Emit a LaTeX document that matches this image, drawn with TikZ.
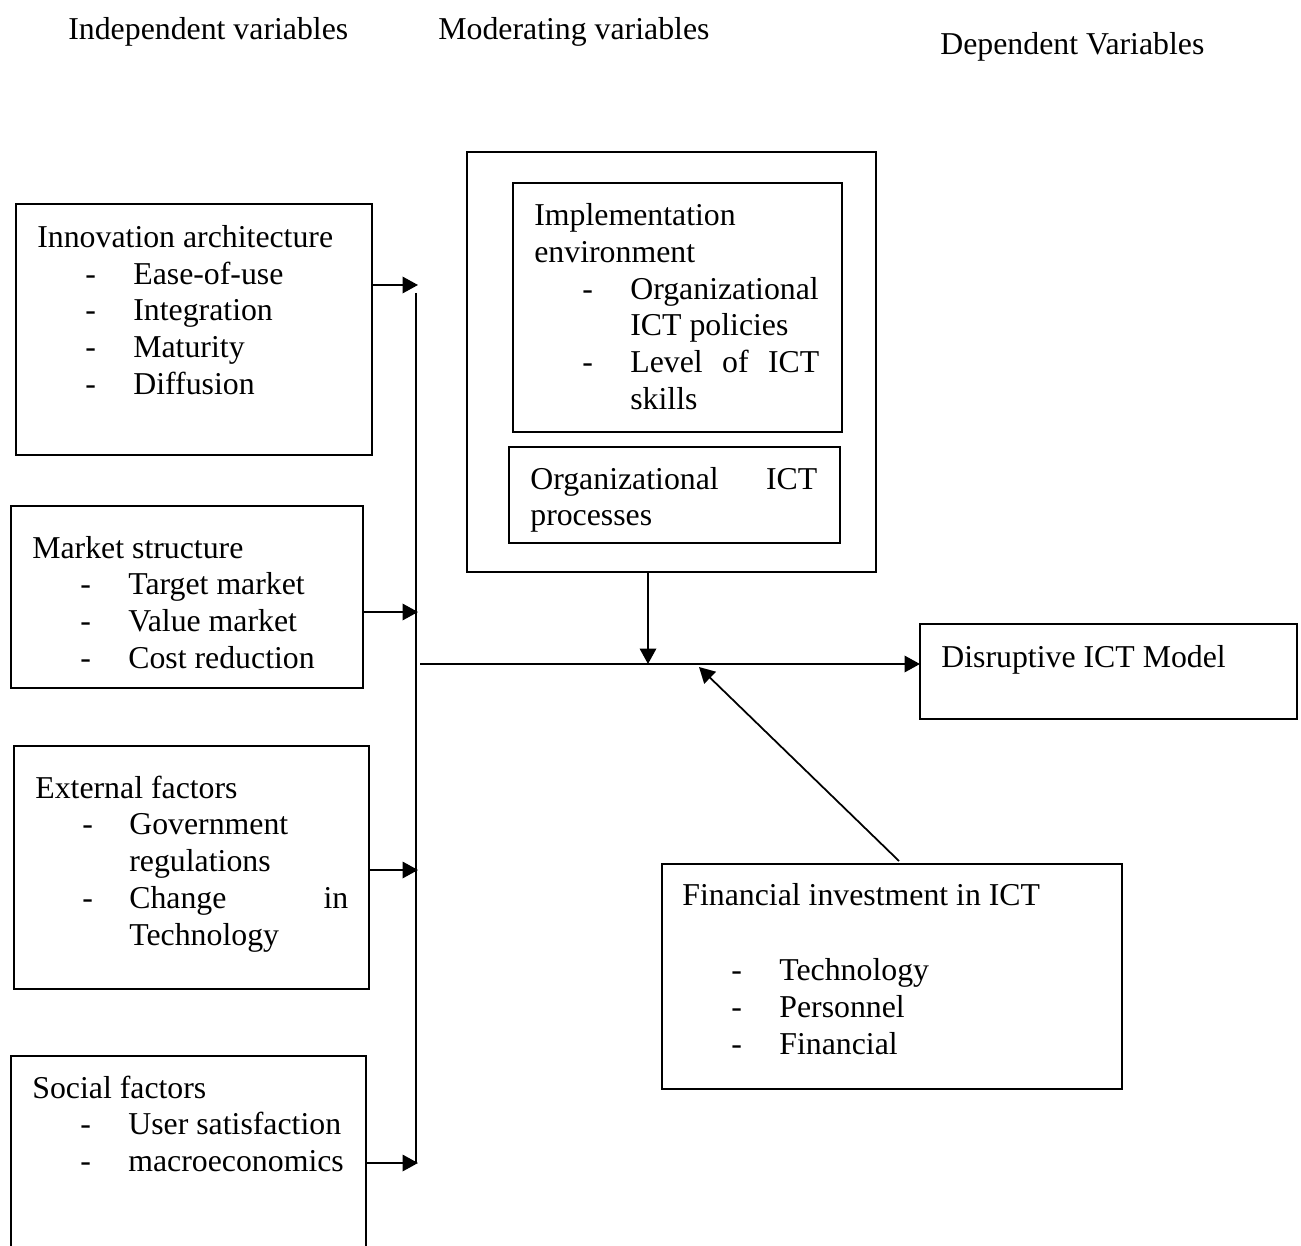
\documentclass[tikz,border=0pt]{standalone}
\usepackage{fontspec}
\setmainfont{Liberation Serif}
\usetikzlibrary{arrows.meta}

% box given by its corners: name, x1, y1, x2, y2
\newcommand{\mkbox}[5]{%
  \node[box, minimum width={(#4-#2)*0.02cm}, minimum height={(#5-#3)*0.02cm}] (#1) at (#2,#3) {};}

\begin{document}
\begin{tikzpicture}[x=0.02cm, y=-0.02cm,
  box/.style={draw, line width=1.1pt, inner sep=0pt, outer sep=0pt, anchor=north west},
  txt/.style={anchor=base west, inner sep=0pt, yshift=-0.05cm, font=\fontsize{18.1}{21}\selectfont},
  ln/.style={line width=1.1pt},
  tip/.style={-{Triangle[length=0.31cm, width=0.33cm]}},
  arr/.style={line width=1.1pt, tip}]

\clip (0,0) rectangle (1301,1246);

% column headings
\node[txt] (hi) at (68,37) {Independent variables};
\node[txt] (hm) at (438,37) {Moderating variables};
\node[txt] (hd) at (940,52) {Dependent Variables};

% independent variables
\mkbox{ia}{16}{204}{372}{455}
\node[txt] (ia0) at (37,245) {Innovation architecture};
\node[txt] (iad1) at (85,282) {-};
\node[txt] (ia1) at (133,282) {Ease-of-use};
\node[txt] (iad2) at (85,318) {-};
\node[txt] (ia2) at (133,318) {Integration};
\node[txt] (iad3) at (85,355) {-};
\node[txt] (ia3) at (133,355) {Maturity};
\node[txt] (iad4) at (85,392) {-};
\node[txt] (ia4) at (133,392) {Diffusion};

\mkbox{ms}{11}{506}{363}{688}
\node[txt] (ms0) at (32,556) {Market structure};
\node[txt] (msd1) at (80,592) {-};
\node[txt] (ms1) at (128,592) {Target market};
\node[txt] (msd2) at (80,629) {-};
\node[txt] (ms2) at (128,629) {Value market};
\node[txt] (msd3) at (80,666) {-};
\node[txt] (ms3) at (128,666) {Cost reduction};

\mkbox{ef}{14}{746}{369}{989}
\node[txt] (ef0) at (35,796) {External factors};
\node[txt] (efd1) at (82,832) {-};
\node[txt] (ef1) at (129,832) {Government};
\node[txt] (ef2) at (129,869) {regulations};
\node[txt] (efd3) at (82,906) {-};
\node[txt] (ef3) at (129,906) {\makebox[4.38cm][s]{Change in}};
\node[txt] (ef4) at (129,943) {Technology};

\mkbox{sf}{11}{1056}{366}{1290}
\node[txt] (sf0) at (32,1096) {Social factors};
\node[txt] (sfd1) at (80,1132) {-};
\node[txt] (sf1) at (128,1132) {User satisfaction};
\node[txt] (sfd2) at (80,1169) {-};
\node[txt] (sf2) at (128,1169) {macroeconomics};

% moderating variables
\mkbox{mod}{467}{152}{876}{572}
\mkbox{ie}{513}{183}{842}{432}
\node[txt] (ie0) at (534,223) {Implementation};
\node[txt] (ie1) at (534,260) {environment};
\node[txt] (ied1) at (582,297) {-};
\node[txt] (ie2) at (630,297) {Organizational};
\node[txt] (ie3) at (630,333) {ICT policies};
\node[txt] (ied2) at (582,370) {-};
\node[txt] (ie4) at (630,370) {\makebox[3.78cm][s]{Level of ICT}};
\node[txt] (ie5) at (630,407) {skills};

\mkbox{op}{509}{447}{840}{543}
\node[txt] (op0) at (530,487) {\makebox[5.74cm][s]{Organizational ICT}};
\node[txt] (op1) at (530,523) {processes};

% dependent variable
\mkbox{dm}{920}{624}{1297}{719}
\node[txt] (dm0) at (941,665) {Disruptive ICT Model};

% financial investment
\mkbox{fi}{662}{864}{1122}{1089}
\node[txt] (fi0) at (682,903) {Financial investment in ICT};
\node[txt] (fid1) at (731,978) {-};
\node[txt] (fi1) at (779,978) {Technology};
\node[txt] (fid2) at (731,1015) {-};
\node[txt] (fi2) at (779,1015) {Personnel};
\node[txt] (fid3) at (731,1052) {-};
\node[txt] (fi3) at (779,1052) {Financial};

% collecting bus
\coordinate (vtop) at (416,293);
\coordinate (vbot) at (416,1163);
\draw[ln] (vtop) -- (vbot);

\coordinate (b1) at (418,285);
\coordinate (b2) at (418,612);
\coordinate (b3) at (418,870);
\coordinate (b4) at (418,1163);
\draw[arr] (ia.east |- b1) -- (b1);
\draw[arr] (ms.east |- b2) -- (b2);
\draw[arr] (ef.east |- b3) -- (b3);
\draw[arr] (sf.east |- b4) -- (b4);

% main line to the dependent variable
\coordinate (hstart) at (420,664);
\draw[arr] (hstart) -- (dm.west |- hstart);

% moderator and investment arrows
\coordinate (mj) at (648,664);
\draw[arr] (mod.south -| mj) -- (mj);
\coordinate (ft) at (899,861);
\coordinate (fj) at (699,667);
\draw[line width=1pt, tip] (ft) -- (fj);
\end{tikzpicture}
\end{document}
